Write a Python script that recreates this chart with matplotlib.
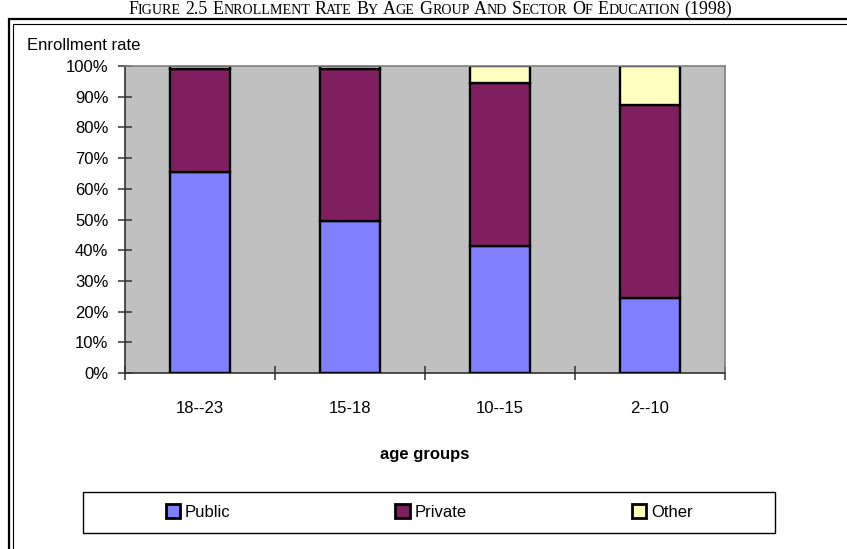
import numpy as np
import matplotlib.pyplot as plt
from matplotlib.patches import Rectangle
from matplotlib.ticker import PercentFormatter, FixedLocator

plt.rcParams['font.family'] = ['Liberation Sans', 'DejaVu Sans']

# Enrollment shares by age group (percent)
age_groups = ['18--23', '15-18', '10--15', '2--10']
public = [65.4, 49.6, 41.4, 24.4]
private = [33.6, 49.4, 53.0, 63.0]
other = [1.0, 1.0, 5.6, 12.6]

series = [('Public', public, '#8080FF'),
          ('Private', private, '#7F1F5F'),
          ('Other', other, '#FFFFC0')]

W, H = 847, 549
fig = plt.figure(figsize=(W / 100, H / 100), dpi=100)
ax = fig.add_axes([125 / W, 1 - 373 / H, 600 / W, 307 / H])
ax.set_facecolor('#C0C0C0')

x = np.arange(len(age_groups))
bottom = np.zeros(len(age_groups))
for name, vals, color in series:
    v = np.array(vals) / 100
    ax.bar(x, v, width=0.4, bottom=bottom, color=color, edgecolor='black',
           linewidth=1.7, label=name, zorder=3)
    bottom += v

ax.set_xlim(-0.5, len(age_groups) - 0.5)
ax.set_ylim(0, 1)
ax.set_yticks(np.arange(0, 1.01, 0.1))
ax.yaxis.set_major_formatter(PercentFormatter(1.0, decimals=0))
ax.set_xticks(x)
ax.set_xticklabels(age_groups)
ax.xaxis.set_minor_locator(FixedLocator(np.arange(-0.5, len(age_groups), 1.0)))
ax.tick_params(axis='x', which='major', length=0, pad=20, labelsize=12)
ax.tick_params(axis='x', which='minor', direction='inout', length=10,
               width=1.1, color='#333333')
ax.tick_params(axis='y', direction='inout', length=10, width=1.1,
               color='#333333', pad=7, labelsize=12)

for side in ('top', 'right'):
    ax.spines[side].set_color('#808080')
    ax.spines[side].set_linewidth(1.2)
for side in ('left', 'bottom'):
    ax.spines[side].set_color('#333333')
    ax.spines[side].set_linewidth(1.2)
ax.spines['top'].set_zorder(4)

ax.set_xlabel('age groups', fontsize=12, fontweight='bold', va='center')
ax.xaxis.set_label_coords(0.5, (373 - 455) / 307)
ax.set_ylabel('Enrollment rate', fontsize=12, rotation=0, ha='left', va='center')
ax.yaxis.set_label_coords((27 - 125) / 600, (373 - 46) / 307)

# legend strip under the chart
fig.patches.append(Rectangle((83 / W, 1 - 533 / H), 692 / W, 41 / H,
                             transform=fig.transFigure, fill=False,
                             edgecolor='black', linewidth=1.0))
fig.legend(loc='center', bbox_to_anchor=(429 / W, 1 - 512 / H), ncol=3,
           frameon=False, fontsize=12, handlelength=0.85, handleheight=0.85,
           handletextpad=0.3, columnspacing=9.9)
for h in fig.legends[0].legend_handles:
    h.set_linewidth(2.0)

# double border around the figure body
fig.patches.append(Rectangle((9 / W, -0.1), 1.2, 1 - 19 / H + 0.1,
                             transform=fig.transFigure, fill=False,
                             edgecolor='black', linewidth=1.6))
fig.patches.append(Rectangle((13 / W, -0.1), 1.2, 1 - 24 / H + 0.1,
                             transform=fig.transFigure, fill=False,
                             edgecolor='black', linewidth=0.8))

# small-caps caption
caption = [('F', 'IGURE'), ('2.5', ''), ('E', 'NROLLMENT'), ('R', 'ATE'),
           ('B', 'Y'), ('A', 'GE'), ('G', 'ROUP'), ('A', 'ND'), ('S', 'ECTOR'),
           ('O', 'F'), ('E', 'DUCATION'), ('(1998)', '')]
big, small = 12.9, 10.1
renderer = fig.canvas.get_renderer()
pieces = []
for i, (head, tail) in enumerate(caption):
    pieces.append((head, big))
    if tail:
        pieces.append((tail, small))
    if i < len(caption) - 1:
        pieces.append((' ', big))

serif = ['Liberation Serif', 'DejaVu Serif']
widths = []
for s, size in pieces:
    t = fig.text(0, 0, s.replace(' ', '\u00a0'), fontsize=size, family=serif)
    widths.append(t.get_window_extent(renderer).width)
    t.remove()
xpos = 430 - sum(widths) / 2
for (s, size), w in zip(pieces, widths):
    fig.text(xpos / W, 1 - 14 / H, s, fontsize=size, family=serif, va='baseline')
    xpos += w

fig.savefig('out.png', dpi=100)
